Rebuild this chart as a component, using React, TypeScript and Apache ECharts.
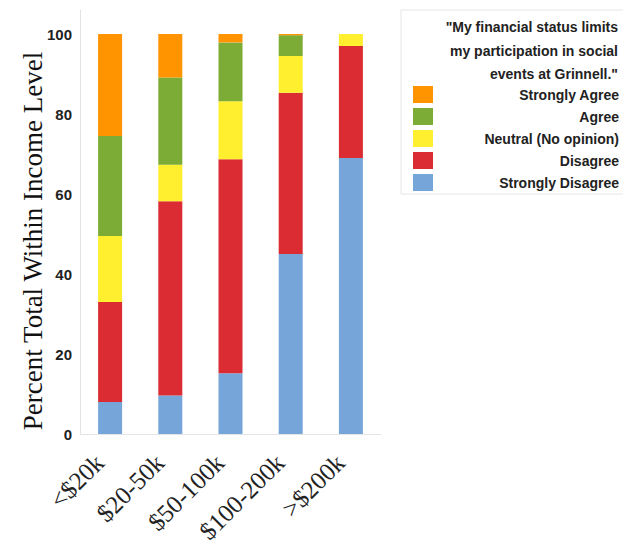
import React, { useEffect, useRef } from "react";
import * as echarts from "echarts";

const categories = ["<$20k", "$20-50k", "$50-100k", "$100-200k", ">$200k"];
const seriesNames = ["Strongly Disagree", "Disagree", "Neutral (No opinion)", "Agree", "Strongly Agree"];
const stronglyDisagree = [8, 9.6, 15.2, 45, 69];
const disagree = [25, 48.6, 53.5, 40.3, 28];
const neutral = [16.5, 9.1, 14.5, 9.2, 3];
const agree = [25, 21.8, 14.7, 5.2, 0];
const stronglyAgree = [25.5, 10.9, 2.1, 0.3, 0];
const seriesValues = [stronglyDisagree, disagree, neutral, agree, stronglyAgree];
const seriesColors = ["#76A5DA", "#DA2C32", "#FFEF2E", "#7CAC35", "#FF9300"];
const legendOrder = ["Strongly Agree", "Agree", "Neutral (No opinion)", "Disagree", "Strongly Disagree"];
const legendTitleLines = ["\"My financial status limits", "my participation in social", "events at Grinnell.\""];
const yTicks = { min: 0, max: 106, interval: 20 };
const yAxisTitle = "Percent Total Within Income Level";

export default function App() {
  const ref = useRef<HTMLDivElement>(null);
  useEffect(() => {
    if (!ref.current) return;
    document.body.style.margin = "0";
    const chart = echarts.init(ref.current, null, { renderer: "svg" });
    const sans = "'Liberation Sans', Arial, sans-serif";
    const serif = "'Liberation Serif', 'Times New Roman', serif";
    chart.setOption({
      animation: false,
      backgroundColor: "#ffffff",
      grid: { left: 80, right: 242, top: 10, bottom: 114, outerBoundsMode: "none", containLabel: false },
      xAxis: {
        type: "category",
        data: categories,
        axisLine: { lineStyle: { color: "#e4e4e4" } },
        axisTick: { alignWithLabel: true, length: 7, lineStyle: { color: "#e4e4e4" } },
        axisLabel: {
          rotate: 45,
          interval: 0,
          margin: 14,
          padding: [0, 15, 0, 0],
          fontFamily: serif,
          fontSize: 25,
          color: "#222",
        },
      },
      yAxis: {
        type: "value",
        min: yTicks.min,
        max: yTicks.max,
        interval: yTicks.interval,
        splitLine: { show: false },
        axisLine: { show: true, lineStyle: { color: "#e4e4e4" } },
        axisTick: { show: false },
        axisLabel: {
          showMaxLabel: false,
          margin: 8,
          fontFamily: sans,
          fontWeight: "bold",
          fontSize: 15,
          color: "#222",
        },
      },
      legend: {
        orient: "vertical",
        left: 408,
        top: 81,
        itemWidth: 20,
        itemHeight: 17,
        itemGap: 5,
        icon: "rect",
        data: legendOrder,
        selectedMode: false,
        formatter: (name: string) => `{a|${name}}`,
        textStyle: {
          rich: {
            a: {
              width: 181,
              align: "right",
              fontFamily: sans,
              fontWeight: "bold",
              fontSize: 14,
              lineHeight: 17,
              color: "#222",
            },
          },
        },
      },
      graphic: [
        {
          type: "rect",
          z: -1,
          shape: { x: 401, y: 10, width: 240, height: 184 },
          style: { fill: "#fff", stroke: "#e6e6e6", lineWidth: 1 },
        },
        ...legendTitleLines.map((line, i) => ({
          type: "text",
          x: 618,
          y: 27 + i * 23.5,
          style: {
            text: line,
            align: "right",
            verticalAlign: "middle",
            font: `bold 14px ${sans}`,
            fill: "#222",
          },
        })),
        {
          type: "text",
          x: 33,
          y: 241,
          rotation: Math.PI / 2,
          style: {
            text: yAxisTitle,
            align: "center",
            verticalAlign: "middle",
            font: `27px ${serif}`,
            fill: "#111",
          },
        },
      ],
      series: seriesNames.map((name, i) => ({
        name,
        type: "bar",
        stack: "total",
        barWidth: 24,
        data: seriesValues[i],
        itemStyle: { color: seriesColors[i] },
      })),
    });
    return () => chart.dispose();
  }, []);
  return <div ref={ref} style={{ position: "fixed", left: 0, top: 0, width: 623, height: 548 }} />;
}
